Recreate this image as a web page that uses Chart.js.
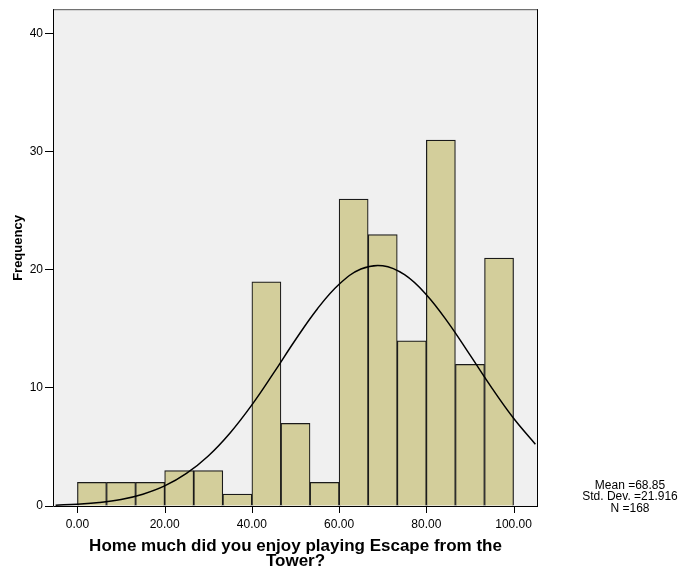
<!DOCTYPE html>
<html>
<head>
<meta charset="utf-8">
<script src="https://cdn.jsdelivr.net/npm/chart.js@4/dist/chart.umd.min.js"></script>
<style>
  body { margin: 0; background: #fff; }
</style>
</head>
<body>
<canvas id="myChart" width="681" height="571"></canvas>
<script>
// Histogramo: bins de 6.67 entre 0 y 100
const binCenters = [3.33, 10, 16.67, 23.33, 30, 36.67, 43.33, 50, 56.67, 63.33, 70, 76.67, 83.33, 90, 96.67];
const frequencies = [2, 2, 2, 3, 3, 1, 19, 7, 2, 26, 23, 14, 31, 12, 21];

// curva normal
const curveX = [-5, 0, 5, 10, 15, 20, 25, 30, 35, 40, 45, 50, 55, 60, 65, 70, 75, 80, 85, 90, 95, 100, 105];
const curveY = [0.07, 0.15, 0.29, 0.55, 1.0, 1.7, 2.76, 4.24, 6.19, 8.57, 11.28, 14.09, 16.7, 18.79, 20.08, 20.36, 19.6, 17.91, 15.54, 12.8, 10.01, 7.43, 5.23];

const xTicks = [0, 20, 40, 60, 80, 100];
const xTickLabels = ["0.00", "20.00", "40.00", "60.00", "80.00", "100.00"];
const yTicks = [0, 10, 20, 30, 40];
const yTickLabels = ["0", "10", "20", "30", "40"];

const statsLines = ["Mean =68.85", "Std. Dev. =21.916", "N =168"];

const FONT = "'Liberation Sans', Arial, sans-serif";

// fondo gris del area
let plotBackground = {
    id: "plotBackground",
    beforeDraw: function(chart){
        let a = chart.chartArea;
        let ctx = chart.ctx;
        ctx.save();
        ctx.fillStyle = "#f0f0f0";
        ctx.fillRect(a.left, a.top, a.right - a.left, a.bottom - a.top);
        ctx.restore();
    }
};

// marco + marcas del eje x + textos extra
let frameAndText = {
    id: "frameAndText",
    afterDatasetsDraw: function(chart){
        let a = chart.chartArea;
        let ctx = chart.ctx;
        ctx.save();
        ctx.lineWidth = 1;
        ctx.strokeStyle = "#555";
        ctx.beginPath();
        ctx.moveTo(a.left, a.top + 0.5);
        ctx.lineTo(a.right - 0.5, a.top + 0.5);
        ctx.stroke();
        ctx.strokeStyle = "#000";
        ctx.beginPath();
        ctx.moveTo(a.right - 0.5, a.top);
        ctx.lineTo(a.right - 0.5, a.bottom);
        ctx.stroke();
        ctx.beginPath();
        ctx.moveTo(a.left + 0.5, a.top);
        ctx.lineTo(a.left + 0.5, a.bottom + 0.5);
        ctx.lineTo(a.right, a.bottom + 0.5);
        ctx.stroke();
        // marcas x
        let xs = chart.scales.x;
        xTicks.forEach(function(v){
            let px = Math.round(xs.getPixelForValue(v)) + 0.5;
            ctx.beginPath();
            ctx.moveTo(px, a.bottom);
            ctx.lineTo(px, a.bottom + 7);
            ctx.stroke();
        });
        ctx.restore();
    },
    afterDraw: function(chart){
        let ctx = chart.ctx;
        ctx.save();
        ctx.fillStyle = "#000";
        // titulo eje y
        ctx.font = "bold 13px " + FONT;
        ctx.textAlign = "center";
        ctx.textBaseline = "middle";
        ctx.translate(18, 248);
        ctx.rotate(-Math.PI / 2);
        ctx.fillText("Frequency", 0, 0);
        ctx.restore();

        ctx.save();
        ctx.fillStyle = "#000";
        ctx.font = "12px " + FONT;
        ctx.textAlign = "center";
        ctx.textBaseline = "middle";
        statsLines.forEach(function(t, k){
            ctx.fillText(t, 630, 485.5 + k * 11.5);
        });
        ctx.restore();
    }
};

let ctx = document.getElementById("myChart").getContext("2d");
let chart = new Chart(ctx, {
    type: "bar",
    data: {
        datasets: [{
            type: "line",
            data: curveX.map(function(x, k){ return {x: x, y: curveY[k]}; }),
            borderColor: "#000",
            borderWidth: 1.5,
            pointRadius: 0,
            tension: 0.4,
            fill: false,
            order: 0
        }, {
            type: "bar",
            data: binCenters.map(function(x, k){ return {x: x, y: frequencies[k]}; }),
            backgroundColor: "#d3ce9b",
            borderColor: "#1a1a1a",
            borderWidth: 1.2,
            barPercentage: 1,
            categoryPercentage: 1,
            order: 1
        }]
    },
    options: {
        responsive: false,
        animation: false,
        layout: { padding: { left: 0, top: 9, right: 143, bottom: 0 } },
        plugins: {
            legend: { display: false },
            tooltip: { enabled: false }
        },
        scales: {
            x: {
                type: "linear",
                offset: false,
                min: -5.6,
                max: 105.6,
                afterBuildTicks: function(scale){
                    scale.ticks = xTicks.map(function(v){ return {value: v}; });
                },
                afterFit: function(scale){ scale.height = 65; },
                ticks: {
                    color: "#000",
                    font: { family: FONT, size: 12 },
                    padding: 4,
                    maxRotation: 0,
                    callback: function(v, i){ return xTickLabels[i]; }
                },
                grid: {
                    offset: false,
                    drawOnChartArea: false,
                    color: "rgba(0,0,0,0)",
                    tickLength: 7
                },
                border: { display: false },
                title: {
                    display: true,
                    text: ["Home much did you enjoy playing Escape from the", "Tower?"],
                    color: "#000",
                    font: { family: FONT, size: 17, weight: "bold", lineHeight: "15px" },
                    padding: { top: 0, bottom: 2 }
                }
            },
            y: {
                min: 0,
                max: 42.1,
                afterBuildTicks: function(scale){
                    scale.ticks = yTicks.map(function(v){ return {value: v}; });
                },
                afterFit: function(scale){ scale.width = 53; },
                ticks: {
                    color: "#000",
                    font: { family: FONT, size: 12 },
                    padding: 2,
                    callback: function(v, i){ return yTickLabels[i]; }
                },
                grid: {
                    drawOnChartArea: false,
                    color: "#000",
                    tickLength: 8
                },
                border: { display: false }
            }
        }
    },
    plugins: [plotBackground, frameAndText]
});
</script>
</body>
</html>
